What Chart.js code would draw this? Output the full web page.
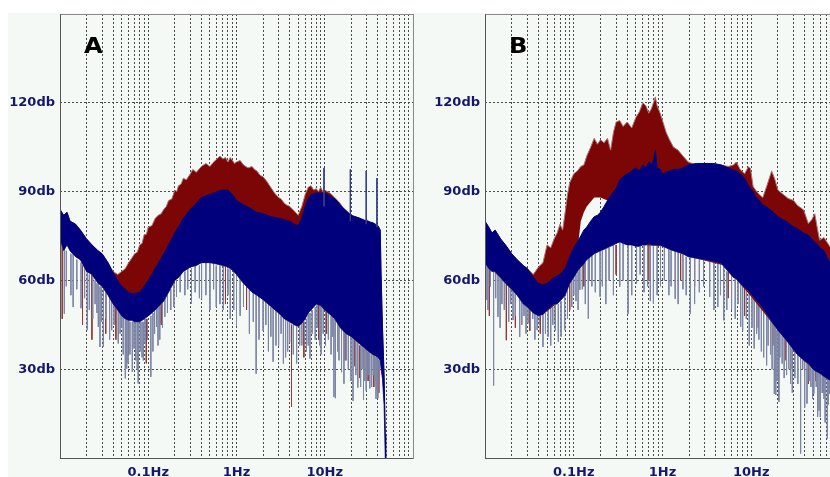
<!DOCTYPE html>
<html>
<head>
<meta charset="utf-8">
<script src="https://cdn.jsdelivr.net/npm/chart.js@4"></script>
<style>
  body { margin:0; width:830px; height:477px; overflow:hidden; position:relative; background:#fff; }
  #bg { position:absolute; left:8px; top:13px; width:822px; height:464px; background:#f4f9f6; }
  .panel { position:absolute; top:0; height:477px; }
</style>
</head>
<body>
<div id="bg"></div>
<div class="panel" style="left:0;width:420px"><canvas id="chartA"></canvas></div>
<div class="panel" style="left:425px;width:422px"><canvas id="chartB"></canvas></div>
<script>
/* ================================
   AXES
================================ */
const gridFreqs = [0.01,0.02,0.03,0.04,0.05,0.06,0.07,0.08,0.09,
                   0.1,0.2,0.3,0.4,0.5,0.6,0.7,0.8,0.9,
                   1,2,3,4,5,6,7,8,9,
                   10,20,30,40,50,60,70,80,90,100];
const freqLabels = [0.1, 1, 10];
const freqLabelText = ['0.1Hz', '1Hz', '10Hz'];
const dbTicks = [0, 30, 60, 90, 120, 150];
const dbLabels = ['', '30db', '60db', '90db', '120db', ''];
const panelNames = ['A', 'B'];

/* ================================
   PANEL A  [freq Hz, dB]
================================ */
const redTopA = [[0.010,84],[0.011,82],[0.012,83],[0.013,80],[0.015,79],[0.017,77],[0.020,74],[0.023,72],[0.027,70],[0.030,69],[0.035,66],[0.040,63],[0.045,62],[0.050,63],[0.055,64],[0.060,66],[0.065,67.5],[0.070,69],[0.075,69.5],[0.080,72],[0.085,72.5],[0.090,75.5],[0.095,75.5],[0.100,78],[0.110,78.5],[0.120,81],[0.130,82],[0.140,82.5],[0.150,84],[0.160,85],[0.170,87],[0.185,87.5],[0.200,90.5],[0.210,90],[0.220,92],[0.235,92.5],[0.250,94.5],[0.270,94],[0.300,96],[0.320,97.5],[0.350,96.5],[0.400,98.5],[0.450,99.5],[0.500,98.5],[0.550,100],[0.600,101],[0.650,102],[0.700,101],[0.750,101.5],[0.800,100],[0.850,101.5],[0.900,100.5],[0.950,99.5],[1.0,100],[1.1,100.5],[1.2,99],[1.35,98],[1.5,98.5],[1.6,97.5],[1.7,97],[1.85,95.5],[2.0,95],[2.2,93.5],[2.5,91],[2.7,89.5],[3.0,88],[3.2,87.5],[3.5,86],[3.7,85.5],[4.0,85],[4.5,83.5],[5.0,82],[5.5,85],[6.0,89],[6.5,91.5],[7.0,92],[7.5,90.5],[8.0,91],[8.5,90],[9.0,91.5],[9.5,90],[10,90.5],[11.5,89.5],[13,88],[14,87],[15,86],[16,84.5],[17.5,83.5],[20,81.5],[22,81.5],[25,81],[27,80],[30,80.5],[33,79.5],[35,79.5],[38,78.5],[40,78.5],[42.5,77],[43.5,62],[45,45],[47,28],[48.5,8],[49,0]];
const blueTopA = [[0.010,84],[0.011,82],[0.012,83],[0.013,80],[0.015,79],[0.017,77],[0.020,74],[0.023,72],[0.027,70],[0.030,69],[0.035,66],[0.040,62.5],[0.045,60],[0.050,58],[0.055,57],[0.060,56],[0.065,55.5],[0.070,55.5],[0.080,56],[0.090,58],[0.100,60],[0.120,64],[0.150,69],[0.170,72],[0.200,76],[0.220,78],[0.250,81],[0.300,84],[0.350,86],[0.400,88],[0.500,89],[0.600,90],[0.700,90.5],[0.800,90.5],[0.900,89],[1.0,87],[1.2,85.5],[1.5,84],[1.7,83],[2.0,82.5],[2.5,81.5],[3.0,81],[3.5,80.5],[4.0,80],[4.5,79],[5.0,78.5],[5.5,81],[6.0,85],[6.5,87.5],[7.0,89],[8.0,89.5],[9.0,89.5],[10,89.5],[11.5,88.5],[13,87.5],[15,85.5],[17.5,83.5],[20,82],[25,81],[30,80],[35,79.5],[40,78.5],[42.5,77],[43.5,62],[45,45],[47,28],[48.5,8],[49,0]];
const blueBottomA = [[0.010,74],[0.011,70],[0.012,72],[0.013,70],[0.015,68],[0.017,67],[0.020,63],[0.023,62],[0.027,59],[0.030,58],[0.035,55],[0.040,52],[0.045,50],[0.050,48],[0.055,47],[0.060,46.5],[0.065,46.5],[0.070,46],[0.080,46],[0.090,47],[0.100,48],[0.120,50],[0.150,53],[0.170,56],[0.200,60],[0.220,61],[0.250,63],[0.300,64.5],[0.350,65],[0.400,66],[0.500,66],[0.600,65.5],[0.700,65],[0.800,64.5],[0.900,63.5],[1.0,62],[1.2,59],[1.5,56],[1.7,55],[2.0,53.5],[2.5,51],[3.0,49],[3.5,47],[4.0,46],[4.5,45],[5.0,44.5],[5.5,45.5],[6.0,47],[6.5,49],[7.0,50],[8.0,52],[9.0,51.5],[10,50],[11.5,48.5],[13,47],[15,44],[17.5,42],[20,41],[25,38.5],[30,36.5],[35,35],[40,34],[42.5,33],[43.5,30],[45,27],[47,18],[48.5,0],[49,0]];
// [freq, low dB, high dB]
const spikesGrayA = [[0.0112,48.8,72],[0.0118,58,70],[0.0133,55,69],[0.0141,51,69],[0.0155,57,67],[0.0173,50.6,66],[0.019,54,64],[0.0204,43.2,63],[0.0215,50,62],[0.0235,47,61],[0.025,52,60],[0.0262,49,59],[0.0272,44.3,59],[0.0284,37.5,58],[0.0295,46,58],[0.031,37.6,57],[0.033,47,56],[0.0365,40,54],[0.0385,43.2,53],[0.041,45,52],[0.0457,38.7,50],[0.048,42,49],[0.05,44,48],[0.052,35,48],[0.055,26.9,47],[0.057,30.2,47],[0.059,32,47],[0.062,35,46],[0.066,29.1,46],[0.069,37,46],[0.072,33,46],[0.075,30,46],[0.077,25.2,46],[0.081,36,46],[0.085,34,46],[0.088,33,46],[0.092,38.7,47],[0.098,40,47],[0.107,27.4,48],[0.113,36,49],[0.118,42,50],[0.124,44.3,51],[0.129,38,51],[0.135,40,52],[0.145,44,53],[0.154,47.7,54],[0.165,49,55],[0.18,50,57],[0.195,51,59],[0.209,54.4,60],[0.23,56,62],[0.26,55,63],[0.28,57,64],[0.309,52.2,64],[0.34,56,65],[0.38,54,65],[0.402,53.9,66],[0.45,55,66],[0.5,50,66],[0.55,57,66],[0.59,51,65],[0.65,52,65],[0.71,50,65],[0.8,55,64],[0.85,47,64],[0.93,50,63],[1.0,44.8,62],[1.1,48,61],[1.2,51,59],[1.4,42,57],[1.55,46,56],[1.67,28.5,55],[1.8,40,55],[2.0,43,53.5],[2.15,45,53],[2.3,36,52],[2.45,41,51],[2.6,32.5,51],[2.8,38,50],[3.0,38,49],[3.2,42,48],[3.4,31.9,48],[3.6,34,47],[3.8,36,47],[4.0,39,46],[4.4,35,45],[4.8,31.9,45],[5.2,38,45],[5.5,38,46],[5.9,40,46],[6.2,36,47],[6.5,38,49],[6.8,33.6,49],[7.2,42,50],[7.8,40,51],[8.2,44,52],[8.8,38,52],[9.1,35,52],[9.6,42,51],[10.2,38,50],[11,40,49],[11.8,35,48],[12.3,41,48],[12.7,20.6,47],[13.2,20.2,47],[14,36,46],[14.5,33,45],[15.5,29,44],[16.5,25.1,43],[17.5,33,42],[18.5,30,42],[19.8,26,41],[20.9,19.3,41],[22.5,28,40],[23.7,23.8,39],[25.5,24,38],[26.5,30,38],[27.5,19.6,37],[28.5,26,37],[29.5,22.8,37],[31,28,36],[32.4,23.5,36],[34,24,35],[35.5,28,35],[37,26,34],[38.1,20,34],[39,23,34],[40,20.2,34],[41.5,30,33]];
const spikesRedA = [[0.0106,47,73],[0.018,45,65],[0.023,40,62],[0.033,42,56],[0.043,40,51],[0.06,35,47],[0.095,32,47],[0.14,45,52],[0.75,52,65],[1.3,50,58],[4.2,17.3,45],[5.8,34,46],[8.5,40,52],[10.5,42,50],[17,33,43],[22,31,40],[25,27,38],[31,26,36],[36,24,35],[41,22,33]];
const spikesUpA = [[9.8,85,98],[19.5,80,97.5],[29.5,79,97],[39,78,94.5]];

/* ================================
   PANEL B  [freq Hz, dB]
================================ */
const redTopB = [[0.010,80],[0.011,78],[0.012,76],[0.013,77],[0.015,74],[0.017,72],[0.020,69],[0.023,67],[0.027,65],[0.030,64],[0.035,62],[0.040,64.5],[0.045,66],[0.050,72],[0.055,71],[0.060,74],[0.065,76],[0.070,79],[0.075,77],[0.080,83],[0.085,89],[0.090,93],[0.100,96],[0.110,97],[0.120,98.5],[0.130,99],[0.140,102],[0.155,105],[0.170,108],[0.185,106],[0.200,107.5],[0.220,106.5],[0.240,108],[0.260,104],[0.280,110],[0.300,113.5],[0.330,114],[0.360,112],[0.400,113.5],[0.450,111.5],[0.500,115],[0.550,117],[0.600,120],[0.650,119],[0.700,116.5],[0.750,118],[0.800,120.5],[0.830,122],[0.870,119],[0.940,116.5],[1.0,114],[1.1,110],[1.2,107.5],[1.33,105],[1.5,104],[1.7,102],[1.95,100],[2.4,99],[3.0,99.5],[3.7,99.5],[4.6,99],[5.5,98.5],[6.3,99],[6.8,100],[7.5,97.5],[8.4,96],[9.3,98.4],[9.8,97.8],[10.5,91.7],[11.2,90.5],[12.3,89],[13.5,88],[15,92],[17,97],[18.5,94],[20,90.5],[23,89],[26,87.7],[30,87],[33,85.4],[39,83.8],[44,79.2],[48,80.5],[52,82.5],[56,77],[59,73.6],[66,74.5],[77,71.4],[85,70],[100,68]];
const redBottomB = [[0.010,66],[0.020,57],[0.030,51],[0.045,48.5],[0.070,53],[0.100,61],[0.110,70],[0.120,80],[0.130,83],[0.140,85],[0.170,88],[0.200,88],[0.240,87],[0.280,88],[0.330,90],[0.360,88],[0.400,75],[0.450,72],[0.600,72],[1.0,71.5],[2.0,68],[5.0,65],[10,54.5],[20,43.2],[40,32.5],[77,26.3],[100,24]];
const blueTopB = [[0.010,80],[0.011,78],[0.012,76],[0.013,77],[0.015,74],[0.017,72],[0.020,69],[0.023,67],[0.027,65],[0.030,64],[0.035,61],[0.040,59],[0.045,58.5],[0.050,59],[0.055,60],[0.060,61],[0.065,61.5],[0.070,62],[0.075,63],[0.080,64],[0.085,66],[0.090,68],[0.100,71],[0.110,73],[0.120,75],[0.130,77],[0.140,78],[0.155,80],[0.170,81.5],[0.185,82],[0.200,83],[0.220,85],[0.240,87],[0.260,88.5],[0.280,90],[0.300,91],[0.330,94],[0.360,95],[0.400,96],[0.450,97],[0.500,98],[0.550,97],[0.600,99],[0.650,98],[0.700,100],[0.750,99],[0.800,101],[0.830,104],[0.870,98],[0.940,97.5],[1.0,96],[1.1,96.5],[1.2,97],[1.33,97.5],[1.5,97.5],[1.7,98],[1.95,99],[2.4,99.5],[3.0,99.5],[3.7,99.5],[4.6,99],[5.5,98],[6.3,97.3],[6.8,97],[7.5,96],[8.4,94.5],[9.3,92],[9.8,91],[10.5,90],[11.2,88.3],[12.3,87],[13.5,85.5],[15,84.7],[17,83.5],[18.5,82.5],[20,81.5],[23,80.5],[26,79.5],[30,78],[33,77.5],[39,76],[44,75.3],[48,74],[52,73],[56,72],[59,71],[66,70],[77,65.7],[85,64],[100,62]];
const blueBottomB = [[0.010,66],[0.011,64],[0.012,63],[0.013,63],[0.015,61],[0.017,59],[0.020,57],[0.023,55],[0.027,52],[0.030,51],[0.035,49],[0.040,48],[0.045,48.5],[0.050,50],[0.055,51],[0.060,52],[0.065,52],[0.070,53],[0.075,54],[0.080,55],[0.085,57],[0.090,59],[0.100,61],[0.110,63],[0.120,64.5],[0.130,65.5],[0.140,67],[0.155,68],[0.170,69],[0.185,69.5],[0.200,70],[0.220,70.5],[0.240,71],[0.260,71.5],[0.280,72],[0.300,72.5],[0.330,73],[0.360,72.5],[0.400,72],[0.450,72],[0.500,71.5],[0.550,71.5],[0.600,72],[0.650,72],[0.700,72.5],[0.750,72],[0.800,72],[0.830,72],[0.870,72],[0.940,72],[1.0,71.5],[1.1,71],[1.2,70.5],[1.33,70],[1.5,69.5],[1.7,69],[1.95,68],[2.4,67.5],[3.0,67],[3.7,66.5],[4.6,65.7],[5.5,63],[6.3,61],[6.8,60.5],[7.5,59],[8.4,57.5],[9.3,56.5],[9.8,55.6],[10.5,54.5],[11.2,53.5],[12.3,52],[13.5,50.5],[15,48.5],[17,46],[18.5,44.5],[20,43.2],[23,41],[26,39],[30,36.5],[33,35],[39,33],[44,32],[48,30.5],[52,29.5],[56,29],[59,28.6],[66,27.5],[77,26.3],[85,25.5],[100,24]];
const spikesGrayB = [[0.0105,53.4,66],[0.0108,50,66],[0.0115,58,65],[0.0125,24.5,64],[0.0132,54,63],[0.014,47.7,63],[0.0148,44,62],[0.0155,52,62],[0.0165,50,60],[0.0185,46,58],[0.0195,52,58],[0.0207,46.6,57],[0.022,48,56],[0.0246,40.9,55],[0.026,45,54],[0.0275,48,53],[0.029,42,52],[0.0306,45.5,51],[0.0325,44,50],[0.0345,47,50],[0.0365,40,49],[0.0387,43.2,48],[0.041,45,48],[0.045,37.5,48.5],[0.048,42,49],[0.0515,41,50],[0.055,38,51],[0.058,45,51],[0.062,43,52],[0.067,39.3,52],[0.072,41,53],[0.079,43.2,55],[0.085,47,57],[0.095,51,60],[0.1,55,61],[0.106,53,62],[0.112,50,63],[0.117,56.8,64],[0.125,57,65],[0.135,52,66],[0.146,47.1,68],[0.15,60,68],[0.16,58,68.5],[0.175,56,69],[0.198,54.5,70],[0.21,58,70],[0.23,52,70.5],[0.25,60,71],[0.28,55,72],[0.33,57.9,73],[0.36,60,72.5],[0.41,48.7,72],[0.45,55,72],[0.51,59,71.5],[0.56,62,71.5],[0.62,56,72],[0.68,58,72],[0.73,53,72.5],[0.79,52.1,72],[0.87,55,72],[0.95,58,72],[1.05,60,71.5],[1.18,55,71],[1.25,58,70.5],[1.39,53.8,70],[1.5,52,69.5],[1.7,57,69],[1.85,55,68],[2.06,48.7,68],[2.3,52,67.5],[2.6,56,67.5],[2.9,58,67],[3.4,54.4,67],[3.8,50,66.5],[4.2,51,66],[4.5,55,65.7],[4.9,46.5,65.7],[5.3,50,63],[6.0,50,62],[6.6,47,60.5],[7.1,52,60],[7.6,44.3,59],[8.0,43,58],[8.8,47,57],[9.5,38,56],[10.2,44,55],[10.8,37,54],[11.5,42,53],[12.2,40,52],[13,36,51],[13.8,34,50],[14.9,31.3,48.5],[15.5,38,48],[16.5,35,47],[17.2,30,46],[18.2,21.7,45],[18.9,21.3,44],[19.5,26,43],[20.5,19,43],[21,34,43],[22.3,31.9,42],[23.5,27,41],[25,28,40],[26.5,30,39],[27.7,25.1,38],[29,22,37],[31,27,36],[33.5,25,35],[36,1.5,34],[38,30,33],[40,17,33],[42.5,18.4,32],[45,26,32],[47,24,31],[49,20,30.5],[50.7,21.7,30],[54,24,29.5],[56,13.9,29],[58,16,29],[60,13.8,28.6],[63,22,28],[66,20,27.5],[68,12,27.5],[72,6.6,27],[74,18,26.5],[76,21.7,26.3],[79,10,26]];
const spikesRedB = [[0.0112,48,65],[0.0174,39.8,60],[0.022,44,56],[0.032,43,51],[0.042,42,48],[0.062,46,52],[0.09,50,59],[0.13,58,66],[0.3,62,72],[0.7,60,72],[1.6,60,69],[2.3,58,68],[5.5,54,63],[8.4,48,57.5],[12,44,52],[17.5,38,46],[20.3,19.5,43],[24,33,40],[29,30,37],[44,25,32],[53,26,29.5],[64,22,28]];
const spikesUpB = [];

/* ================================
   HELPERS
================================ */
const pts = (pairs) => pairs.map(([x, y]) => ({ x, y }));
const spikes = (list) => list.flatMap(([x, lo, hi]) => [{ x, y: hi }, { x, y: lo }, { x, y: null }]);

const line = (data, extra) => Object.assign({
  data, pointRadius: 0, borderWidth: 1, tension: 0, fill: false
}, extra);

const framePlugin = {
  id: 'frame',
  afterDraw(chart, args, opts) {
    const { ctx, chartArea: a } = chart;
    const l = Math.round(a.left) + 0.5, t = Math.round(a.top) + 0.5;
    const r = Math.round(a.right) + 0.5, b = Math.round(a.bottom) + 0.5;
    ctx.save();
    ctx.lineWidth = 1;
    ctx.strokeStyle = '#8a8a8a';
    ctx.beginPath();
    ctx.moveTo(l, t); ctx.lineTo(r, t); ctx.lineTo(r, b);
    ctx.stroke();
    ctx.strokeStyle = '#555';
    ctx.beginPath();
    ctx.moveTo(l, t); ctx.lineTo(l, b); ctx.lineTo(r, b);
    ctx.stroke();
    ctx.translate(a.left + 24, a.top + 39);
    ctx.scale(1.15, 1);
    ctx.font = 'bold 21px "DejaVu Sans"';
    ctx.fillStyle = '#000';
    ctx.fillText(opts.letter, 0, 0);
    ctx.restore();
  }
};

const tickFont = { family: 'DejaVu Sans', size: 13, weight: 'bold' };

function makeChart(id, letter, s) {
  new Chart(document.getElementById(id), {
    type: 'line',
    data: {
      datasets: [
        line(pts(s.blueTop), { borderColor: '#00007c', backgroundColor: '#00007c', fill: '+1', order: 1 }),
        line(pts(s.blueBottom), { borderColor: '#3c3f86', order: 1 }),
        line(pts(s.redTop), { borderColor: '#a87575', backgroundColor: '#7c0606', fill: '+1', order: 2 }),
        line(pts(s.redBottom), { borderColor: 'rgba(0,0,0,0)', order: 2 }),
        line(spikes(s.gray), { borderColor: '#7e86a6', order: 3 }),
        line(spikes(s.red), { borderColor: '#8e3a3a', order: 3 }),
        line(spikes(s.up), { borderColor: '#3a3f80', order: 0 })
      ]
    },
    options: {
      animation: false,
      responsive: true,
      maintainAspectRatio: false,
      layout: { padding: { left: 8, top: 14, right: 2, bottom: 0 } },
      plugins: {
        legend: { display: false },
        tooltip: { enabled: false },
        frame: { letter }
      },
      scales: {
        x: {
          type: 'logarithmic',
          min: 0.01, max: 100,
          afterBuildTicks: (sc) => { sc.ticks = gridFreqs.map(v => ({ value: v })); },
          afterFit: (sc) => { sc.height = 19; },
          grid: { color: '#4a4a4a', drawTicks: false },
          border: { display: false, dash: [2, 2] },
          ticks: {
            autoSkip: false, maxRotation: 0, padding: 7,
            color: '#16166a', font: tickFont,
            callback: (v) => {
              const i = freqLabels.indexOf(v);
              return i >= 0 ? freqLabelText[i] : '';
            }
          }
        },
        y: {
          min: 0, max: 150,
          afterBuildTicks: (sc) => { sc.ticks = dbTicks.map(v => ({ value: v })); },
          afterFit: (sc) => { sc.width = 52; },
          grid: { color: '#4a4a4a', drawTicks: false },
          border: { display: false, dash: [2, 2] },
          ticks: {
            padding: 5, color: '#16166a', font: tickFont,
            callback: (v) => {
              const i = dbTicks.indexOf(v);
              return i >= 0 ? dbLabels[i] : '';
            }
          }
        }
      }
    },
    plugins: [framePlugin]
  });
}

makeChart('chartA', panelNames[0], {
  blueTop: blueTopA, blueBottom: blueBottomA,
  redTop: redTopA, redBottom: blueBottomA,
  gray: spikesGrayA, red: spikesRedA, up: spikesUpA
});

makeChart('chartB', panelNames[1], {
  blueTop: blueTopB, blueBottom: blueBottomB,
  redTop: redTopB, redBottom: redBottomB,
  gray: spikesGrayB, red: spikesRedB, up: spikesUpB
});
</script>
</body>
</html>
